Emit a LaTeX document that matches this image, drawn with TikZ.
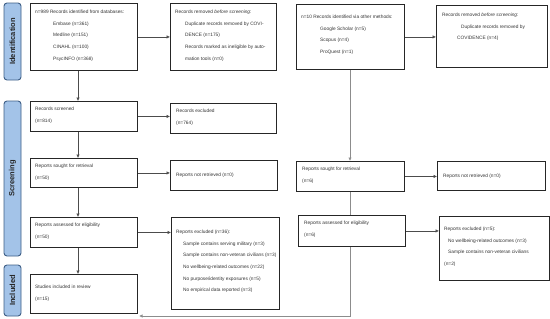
\documentclass[tikz,border=0pt]{standalone}
\usepackage{fontspec}
\setmainfont{Liberation Sans}
\usetikzlibrary{arrows.meta}
\definecolor{barfill}{HTML}{A3C3E8}
\definecolor{bardraw}{HTML}{3E5F86}
\tikzset{
  bar/.style={draw=bardraw, fill=barfill, line width=0.9pt, rounded corners=3pt},
  bartext/.style={rotate=90, font=\fontsize{7.5}{9}\selectfont\bfseries, text=black!85},
  box/.style={draw=black!85, line width=0.9pt, anchor=north west, inner sep=0pt},
  txt/.style={anchor=north west, align=left, inner sep=0pt, font=\fontsize{4.8}{11.6}\selectfont, text=black!80},
  arr/.style={draw=black!70, line width=0.55pt, -{Latex[length=3.5pt,width=3.5pt]}},
  garr/.style={draw=black!45, line width=1pt, -{Latex[length=3.5pt,width=3.5pt]}},
  gline/.style={draw=black!45, line width=1pt}
}
\begin{document}
\begin{tikzpicture}[x=1pt,y=-1pt]
\useasboundingbox (0,0) rectangle (550,319);
% side bars
\draw[bar] (4,3) rectangle (21,80);
\node[bartext] (lid) at (12.5,41.5) {Identification};
\draw[bar] (4,101) rectangle (21,256);
\node[bartext] (lsc) at (12.5,178.5) {Screening};
\draw[bar] (4,265) rectangle (21,316);
\node[bartext] (lin) at (12.5,290.5) {Included};
% boxes
\node[box, minimum width=107, minimum height=67] (b1) at (30,3) {};
\node[txt] (t1) at (35,10) {n=989 Records identified from databases:\\
\hspace*{18pt}Embase (n=361)\\
\hspace*{18pt}Medline (n=151)\\
\hspace*{18pt}CINAHL (n=100)\\
\hspace*{18pt}PsycINFO (n=368)};
\node[box, minimum width=106, minimum height=67] (b2) at (170,3) {};
\node[txt] (t2) at (175,10) {Records removed \textit{before screening}:\\
\hspace*{10pt}Duplicate records removed by COVI-\\
\hspace*{10pt}DENCE (n=175)\\
\hspace*{10pt}Records marked as ineligible by auto-\\
\hspace*{10pt}mation tools (n=0)};
\node[box, minimum width=108, minimum height=65] (b3) at (296,4) {};
\node[txt] (t3) at (301,15) {n=10 Records identified via other methods:\\
\hspace*{19pt}Google Scholar (n=5)\\
\hspace*{19pt}Scopus (n=4)\\
\hspace*{19pt}ProQuest (n=1)};
\node[box, minimum width=111, minimum height=62] (b4) at (436,5) {};
\node[txt] (t4) at (442,13) {Records removed \textit{before screening}:\\
\hspace*{19pt}Duplicate records removed by\\
\hspace*{15pt}COVIDENCE (n=4)};
% screening
\node[box, minimum width=107, minimum height=30] (b5) at (30,101) {};
\node[txt] (t5) at (35,107) {Records screened\\(n=814)};
\node[box, minimum width=106, minimum height=30] (b6) at (170,103) {};
\node[txt] (t6) at (176,109) {Records excluded\\(n=764)};
\node[box, minimum width=107, minimum height=29] (b7) at (30,158) {};
\node[txt] (t7) at (35,164) {Reports sought for retrieval\\(n=50)};
\node[box, minimum width=107, minimum height=30] (b8) at (170,160) {};
\node[txt, anchor=west] (t8) at (176,175) {Reports not retrieved (n=0)};
\node[box, minimum width=108, minimum height=30] (b9) at (296,161) {};
\node[txt] (t9) at (302,167) {Reports sought for retrieval\\(n=6)};
\node[box, minimum width=108, minimum height=29] (b10) at (437,161) {};
\node[txt, anchor=west] (t10) at (443,176) {Reports not retrieved (n=0)};
\node[box, minimum width=107, minimum height=30] (b11) at (30,217) {};
\node[txt] (t11) at (35,223) {Reports assessed for eligibility\\(n=50)};
\node[box, minimum width=108, minimum height=92] (b12) at (171,217) {};
\node[txt] (t12) at (176,230) {Reports excluded (n=36):\\
\hspace*{7pt}Sample contains serving military (n=3)\\
\hspace*{7pt}Sample contains non-veteran civilians (n=3)\\
\hspace*{7pt}No wellbeing-related outcomes (n=22)\\
\hspace*{7pt}No purpose/identity exposures (n=5)\\
\hspace*{7pt}No empirical data reported (n=3)};
\node[box, minimum width=107, minimum height=31] (b13) at (298,215) {};
\node[txt] (t13) at (304,221) {Reports assessed for eligibility\\(n=6)};
\node[box, minimum width=110, minimum height=64] (b14) at (439,216) {};
\node[txt] (t14) at (444,227) {Reports excluded (n=5):\\
\hspace*{4pt}No wellbeing-related outcomes (n=3)\\
\hspace*{4pt}Sample contains non-veteran civilians\\
(n=2)};
\node[box, minimum width=107, minimum height=39] (b15) at (30,274) {};
\node[txt] (t15) at (35,285) {Studies included in review\\(n=15)};
% connectors
\coordinate (xl) at (78,0);
\coordinate (xr) at (350,0);
\coordinate (lc) at (350,316);
\coordinate (le) at (139,316);
\draw[arr] (b1.south -| xl) -- (b5.north -| xl);
\draw[arr] (b5.south -| xl) -- (b7.north -| xl);
\draw[arr] (b7.south -| xl) -- (b11.north -| xl);
\draw[arr] (b11.south -| xl) -- (b15.north -| xl);
\draw[arr] (b1.east) -- (b2.west);
\draw[arr] (b5.east) -- (b5.east -| b6.west);
\draw[arr] (b7.east) -- (b7.east -| b8.west);
\draw[arr] (b11.east) -- (b11.east -| b12.west);
\draw[arr] (b3.east) -- (b3.east -| b4.west);
\draw[garr] (b3.south -| xr) -- (b9.north -| xr);
\draw[arr] (b9.east) -- (b9.east -| b10.west);
\draw[gline] (b9.south -| xr) -- (b13.north -| xr);
\draw[arr] (b13.east) -- (b13.east -| b14.west);
\draw[garr] (b13.south -| xr) -- (lc) -- (le);
\end{tikzpicture}
\end{document}
